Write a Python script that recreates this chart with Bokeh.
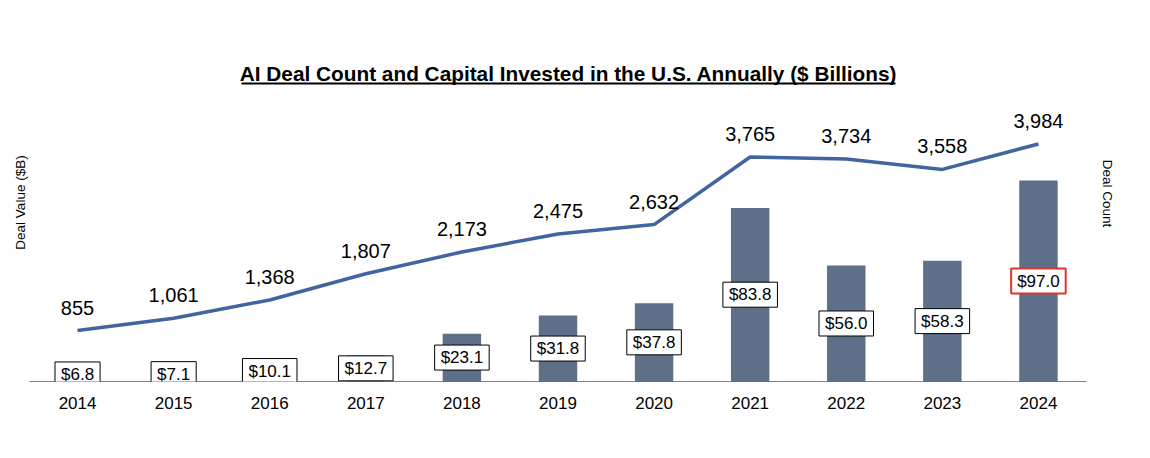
import math
from bokeh.plotting import figure
from bokeh.models import (ColumnDataSource, Range1d, FixedTicker, LabelSet,
                          Label, BoxAnnotation)
from bokeh.core.properties import value
from bokeh.embed import file_html
from bokeh.resources import INLINE

years = ["2014", "2015", "2016", "2017", "2018", "2019", "2020",
         "2021", "2022", "2023", "2024"]
deal_value = [6.8, 7.1, 10.1, 12.7, 23.1, 31.8, 37.8, 83.8, 56.0, 58.3, 97.0]
deal_count = [855, 1061, 1368, 1807, 2173, 2475, 2632, 3765, 3734, 3558, 3984]
highlight = ["2024"]

title_text = "AI Deal Count and Capital Invested in the U.S. Annually ($ Billions)"
left_label = "Deal Value ($B)"
right_label = "Deal Count"

FONT = "Liberation Sans"
BAR_COLOR = "#5E6F89"
LINE_COLOR = "#4264A0"

n = len(years)
xs = list(range(n))
src = ColumnDataSource(dict(
    x=xs,
    value=deal_value,
    half=[v / 2 for v in deal_value],
    count=deal_count,
    val_lbl=[f"${v:.1f}" for v in deal_value],
    count_lbl=[f"{c:,}" for c in deal_count],
    border=["#E0352B" if y in highlight else "black" for y in years],
    bw=[2 if y in highlight else 1 for y in years],
))

p = figure(width=1134, height=442, output_backend="svg", toolbar_location=None,
           x_range=Range1d(-0.8018, 10.9997), y_range=Range1d(0, 183.9),
           x_axis_location="below", y_axis_location=None,
           min_border_left=0, min_border_right=0, min_border_top=0,
           min_border_bottom=61)
p.extra_y_ranges = {"count": Range1d(0, 6391)}
p.outline_line_color = None
p.xgrid.visible = False
p.ygrid.visible = False
p.background_fill_color = "white"
p.border_fill_color = "white"

ax = p.xaxis[0]
ax.ticker = FixedTicker(ticks=xs)
ax.major_label_overrides = {i: y for i, y in enumerate(years)}
ax.axis_line_color = None
ax.major_tick_line_color = None
ax.minor_tick_line_color = None
ax.major_label_standoff = 9
ax.major_label_text_font = FONT
ax.major_label_text_font_size = "17px"
ax.major_label_text_color = "black"

p.vbar(x="x", top="value", bottom=0, width=0.4, source=src,
       fill_color=BAR_COLOR, line_color=None)
p.segment(x0=[-0.5], x1=[n - 0.5], y0=[0], y1=[0], line_color="black", line_width=1)
p.line(x="x", y="count", source=src, y_range_name="count",
       line_color=LINE_COLOR, line_width=3.5)

p.add_layout(LabelSet(x="x", y="count", text="count_lbl", source=src,
                      y_range_name="count", y_offset=23,
                      text_align="center", text_baseline="middle",
                      text_font=value(FONT), text_font_size="20px",
                      text_color="black"))

p.text(x="x", y="half", text="val_lbl", source=src,
       text_align="center", text_baseline="middle",
       text_font=value(FONT), text_font_size="17px", text_color="black",
       background_fill_color="white", border_line_color="border",
       border_line_width="bw", padding=(6, 3))

p.add_layout(Label(x=568, y=308.5, x_units="screen", y_units="screen",
                   text=title_text, text_font=FONT, text_font_style="bold",
                   text_font_size="20.8px", text_align="center",
                   text_baseline="middle", text_color="black"))
p.add_layout(BoxAnnotation(left=241, right=895, bottom=297, top=299,
                           left_units="screen", right_units="screen",
                           bottom_units="screen", top_units="screen",
                           fill_color="black", fill_alpha=1, line_color=None))
p.add_layout(Label(x=20, y=179, x_units="screen", y_units="screen",
                   text=left_label, angle=math.pi / 2, angle_units="rad",
                   text_font=FONT, text_font_size="13.5px", text_align="center",
                   text_baseline="middle", text_color="black"))
p.add_layout(Label(x=1107, y=188, x_units="screen", y_units="screen",
                   text=right_label, angle=-math.pi / 2, angle_units="rad",
                   text_font=FONT, text_font_size="13.5px", text_align="center",
                   text_baseline="middle", text_color="black"))

open("out.html", "w").write(file_html(p, INLINE))
